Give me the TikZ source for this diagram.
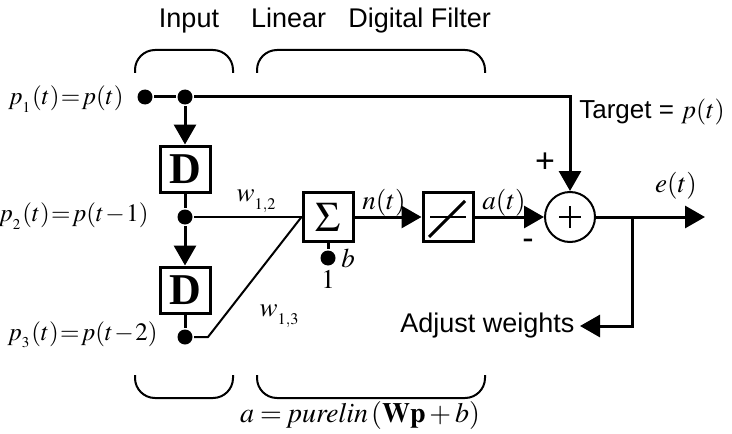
\documentclass[tikz,border=0pt]{standalone}
\usepackage{mathptmx}
\usepackage[no-math]{fontspec}
\setmainfont{Liberation Sans}
\newfontfamily\timesfont{Liberation Serif}
\usetikzlibrary{arrows.meta, positioning}

\begin{document}
\begin{tikzpicture}[
        x=0.5pt, y=-0.5pt,
        line width=1.5pt,
        font=\fontsize{13.5}{16}\selectfont,
        delaybox/.style={rectangle, draw, line width=1.5pt, minimum width=25pt, minimum height=23pt,
                         inner sep=0pt, font=\fontsize{22}{22}\selectfont\timesfont\bfseries},
        blockbox/.style={rectangle, draw, line width=1.5pt, minimum width=25pt, minimum height=24.5pt,
                         inner sep=0pt, font=\fontsize{21}{21}\selectfont},
        sumnode/.style={circle, draw, line width=1pt, minimum size=25pt, inner sep=0pt},
        dot/.style={circle, fill, inner sep=0pt, minimum size=7.5pt},
        mathlabel/.style={font=\fontsize{13.5}{16}\selectfont, inner sep=1pt},
        plabel/.style={font=\fontsize{12.5}{15}\selectfont, inner sep=1pt, anchor=east},
        arrow/.style={-{Triangle[length=10pt, width=11pt]}, line width=1.5pt},
        wline/.style={line width=1pt},
        bracket/.style={line width=1pt, rounded corners=10pt}
    ]
        \useasboundingbox (0,0) rectangle (732,433);

        \node (inputtitle)  at (189,21) {Input};
        \node (filtertitle) at (371,21) {Linear\hspace{0.55em} Digital Filter};

        \draw [bracket] (135,73) -- (135,50) -- (233,50) -- (233,73);
        \draw [bracket] (257,73) -- (257,50) -- (485,50) -- (485,73);
        \draw [bracket] (135,375) -- (135,398) -- (233,398) -- (233,375);
        \draw [bracket] (257,375) -- (257,398) -- (485,398) -- (485,375);

        \node [dot] (in)   at (145,97)  {};
        \node [dot] (tap1) at (185,97)  {};
        \node [delaybox] (delay1) at (185,169) {D};
        \node [dot] (tap2) at (185,217) {};
        \node [delaybox] (delay2) at (185,290) {D};
        \node [dot] (tap3) at (185,337) {};
        \coordinate (bend3) at (208,337);

        \node [blockbox] (sigma)  at (328,217) {$\Sigma$};
        \node [dot] (biasdot) at (328,258) {};
        \node [blockbox] (linbox) at (448,217) {};
        \node [sumnode] (sum) at (570,217) {};
        \coordinate (branch) at (632,217);
        \coordinate (out) at (705,217);

        \node [plabel] (p1label) at (127,99)  {$p_{_1}(t)\mkern1mu{=}\mkern1mu p(t)$};
        \node [plabel] (p2label) at (152,216) {$p_{_2}(t)\mkern1mu{=}\mkern1mu p(t\mkern1mu{-}\mkern1mu 1)$};
        \node [plabel] (p3label) at (161,335) {$p_{_3}(t)\mkern1mu{=}\mkern1mu p(t\mkern1mu{-}\mkern1mu 2)$};
        \node [mathlabel] (w12) at (257,201) {$w_{_{1,2}}$};
        \node [mathlabel] (w13) at (280,316) {$w_{_{1,3}}$};
        \node [mathlabel] (blabel) at (348,258) {$b$};
        \node [mathlabel] (one) at (328,279) {$1$};
        \node [mathlabel] (nlabel) at (384,203) {$n(t)$};
        \node [mathlabel] (alabel) at (504,203) {$a(t)$};
        \node [mathlabel] (elabel) at (676,186) {$e(t)$};
        \node [font=\fontsize{17}{17}\selectfont] (plus)  at (545,163) {+};
        \node [font=\fontsize{17}{17}\selectfont] (minus) at (528,244) {-};
        \node [font=\fontsize{13}{16}\selectfont] (target) at (652,112) {Target = $p(t)$};
        \node [anchor=east, inner sep=2pt] (adjust) at (580,326) {Adjust weights};
        \node [mathlabel, font=\fontsize{14}{16}\selectfont] (formula) at (360,415) {$a = \mathit{purelin}\,(\mathbf{Wp} + b)$};

        \draw (in) -- (tap1);
        \draw [arrow] (tap1) -| (sum);
        \draw [arrow] (tap1) -- (delay1);
        \draw (delay1) -- (tap2);
        \draw [arrow] (tap2) -- (delay2);
        \draw (delay2) -- (tap3);
        \draw [wline] (tap2) -- (sigma.west);
        \draw [wline] (tap3) -- (bend3) -- (sigma.west);
        \draw (sigma) -- (biasdot);
        \draw [arrow] (sigma) -- (linbox);
        \draw [arrow] (linbox) -- (sum);
        \draw [arrow] (sum) -- (out);
        \draw [arrow] (branch) |- (adjust.east);

        \draw [line width=0.7pt] ([xshift=-9pt]linbox.center) -- ([xshift=9pt]linbox.center);
        \draw ([shift={(-9.5pt,-10pt)}]linbox.center) -- ([shift={(8.5pt,8pt)}]linbox.center);
        \draw [line width=1pt] ([xshift=-5.5pt]sum.center) -- ([xshift=5.5pt]sum.center);
        \draw [line width=1pt] ([yshift=-5.5pt]sum.center) -- ([yshift=5.5pt]sum.center);
    \end{tikzpicture}
\end{document}
